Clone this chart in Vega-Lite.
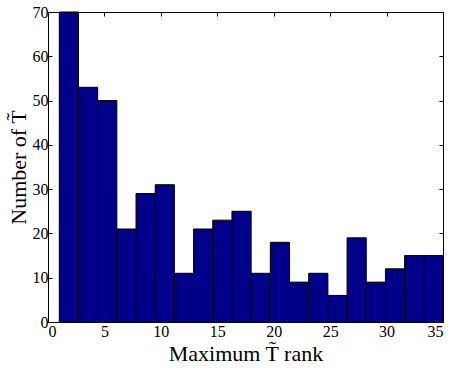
{
  "$schema": "https://vega.github.io/schema/vega-lite/v6.json",
  "width": 395,
  "height": 310,
  "autosize": {"type": "none"},
  "padding": {"left": 48, "top": 12, "right": 8, "bottom": 46},
  "config": {
    "view": {"stroke": "black", "strokeWidth": 1},
    "font": "Liberation Serif",
    "axis": {"grid": false, "domain": false, "tickColor": "black", "tickSize": -4, "labelColor": "black", "titleColor": "black", "labelFont": "Liberation Serif", "titleFont": "Liberation Serif", "labelFontSize": 16, "titleFontSize": 22, "titleFontWeight": "normal"}
  },
  "data": {
    "values": [
      {"start": 1.0, "end": 2.7, "count": 70},
      {"start": 2.7, "end": 4.4, "count": 53},
      {"start": 4.4, "end": 6.1, "count": 50},
      {"start": 6.1, "end": 7.8, "count": 21},
      {"start": 7.8, "end": 9.5, "count": 29},
      {"start": 9.5, "end": 11.2, "count": 31},
      {"start": 11.2, "end": 12.9, "count": 11},
      {"start": 12.9, "end": 14.6, "count": 21},
      {"start": 14.6, "end": 16.3, "count": 23},
      {"start": 16.3, "end": 18.0, "count": 25},
      {"start": 18.0, "end": 19.7, "count": 11},
      {"start": 19.7, "end": 21.4, "count": 18},
      {"start": 21.4, "end": 23.1, "count": 9},
      {"start": 23.1, "end": 24.8, "count": 11},
      {"start": 24.8, "end": 26.5, "count": 6},
      {"start": 26.5, "end": 28.2, "count": 19},
      {"start": 28.2, "end": 29.9, "count": 9},
      {"start": 29.9, "end": 31.6, "count": 12},
      {"start": 31.6, "end": 33.3, "count": 15},
      {"start": 33.3, "end": 35.0, "count": 15}
    ]
  },
  "layer": [
    {
      "mark": {"type": "bar", "color": "#00008B", "stroke": "black", "strokeWidth": 1, "opacity": 1},
      "encoding": {
        "x": {"field": "start", "type": "quantitative", "scale": {"domain": [0, 35], "nice": false},
          "axis": {"orient": "bottom", "values": [0,5,10,15,20,25,30,35], "labelPadding": 5, "title": "Maximum T̃ rank", "titlePadding": 4}},
        "x2": {"field": "end"},
        "y": {"field": "count", "type": "quantitative", "scale": {"domain": [0, 70], "nice": false},
          "axis": {"orient": "left", "values": [0,10,20,30,40,50,60,70], "labelPadding": 4, "title": "Number of T̃", "titlePadding": 2}},
        "y2": {"datum": 0}
      }
    },
    {
      "mark": {"type": "bar", "opacity": 0},
      "encoding": {
        "x": {"field": "start", "type": "quantitative", "axis": {"orient": "top", "values": [0,5,10,15,20,25,30,35], "labels": false, "title": null}},
        "x2": {"field": "end"},
        "y": {"field": "count", "type": "quantitative", "axis": {"orient": "right", "values": [0,10,20,30,40,50,60,70], "labels": false, "title": null}},
        "y2": {"datum": 0}
      }
    }
  ],
  "resolve": {"axis": {"x": "independent", "y": "independent"}}
}
